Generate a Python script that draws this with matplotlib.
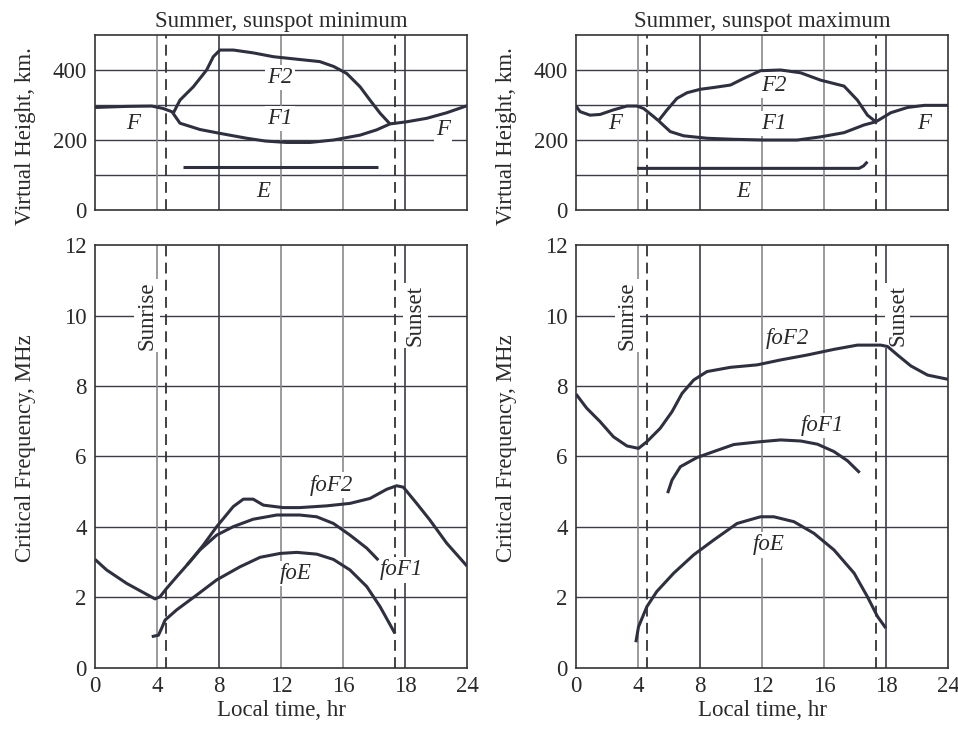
import matplotlib
matplotlib.use("Agg")
import matplotlib.pyplot as plt

plt.rcParams['font.family'] = ['Liberation Serif', 'DejaVu Serif']

INK = '#2e3040'
GRID_DARK = '#3c3c48'
GRID_LIGHT = '#8a8a8a'

# x ticks: drawn at 4 h spacing, the fifth one is printed "18" as in the source
XTICKS = [0, 4, 8, 12, 16, 20, 24]
XTICK_LABELS = ['0', '4', '8', '12', '16', '18', '24']
SUNRISE = 4.58
SUNSET = 19.36

# ---- sunspot minimum: virtual height (km) ----
min_f_night_x = [0, 2.0, 3.66, 4.4, 4.95, 5.04]
min_f_night_y = [293, 296, 297, 290, 281, 276]
min_f2_x = [5.04, 5.48, 6.34, 7.2, 7.63, 8.06, 8.92, 10.2, 11.5, 13.2, 14.5, 15.4,
            16.24, 17.1, 17.74, 18.4, 19.03]
min_f2_y = [276, 314, 352, 400, 438, 457, 457, 449, 438, 430, 424, 410,
            390, 352, 314, 276, 246]
min_f1_x = [5.04, 5.48, 6.77, 8.06, 9.79, 11.0, 12.37, 13.87, 15.38, 17.1, 18.17, 19.03]
min_f1_y = [276, 248, 230, 219, 205, 197, 193, 193, 200, 214, 229, 246]
min_f_eve_x = [19.03, 20.1, 21.4, 22.7, 24]
min_f_eve_y = [246, 252, 262, 278, 298]
min_e_x = [5.7, 18.28]
min_e_y = [122, 122]

# ---- sunspot maximum: virtual height (km) ----
max_f_night_x = [0, 0.26, 0.9, 1.55, 2.41, 3.28, 3.93, 4.36, 5.0, 5.32]
max_f_night_y = [297, 281, 271, 273, 286, 297, 297, 290, 267, 255]
max_f2_x = [5.32, 5.87, 6.51, 7.16, 8.02, 8.88, 9.96, 10.82, 11.9, 13.2, 14.49,
            15.78, 17.29, 18.15, 18.8, 19.34]
max_f2_y = [255, 286, 319, 335, 345, 350, 357, 376, 398, 400, 392,
            371, 354, 314, 271, 252]
max_f1_x = [5.32, 6.08, 6.94, 8.45, 10.18, 12.12, 14.27, 15.78, 17.29, 18.58, 19.34]
max_f1_y = [255, 224, 212, 205, 202, 200, 200, 209, 221, 243, 252]
max_f_eve_x = [19.34, 20.31, 21.39, 22.47, 24]
max_f_eve_y = [252, 278, 293, 299, 299]
max_e_x = [3.93, 18.26, 18.55, 18.8]
max_e_y = [119, 119, 126, 138]

# ---- sunspot minimum: critical frequency (MHz) ----
min_fof2_x = [0, 0.75, 2.04, 3.12, 3.87, 4.19, 4.62, 5.27, 6.13, 6.99, 7.85, 8.92,
              9.57, 10.2, 10.86, 12.15, 13.2, 14.95, 16.45, 17.74, 18.82, 19.46,
              19.89, 20.75, 21.6, 22.69, 24]
min_fof2_y = [3.08, 2.78, 2.40, 2.14, 1.96, 2.02, 2.26, 2.59, 3.02, 3.49, 4.01, 4.58,
              4.79, 4.79, 4.62, 4.55, 4.55, 4.60, 4.67, 4.81, 5.07, 5.17,
              5.13, 4.67, 4.20, 3.54, 2.89]
min_fof1_x = [5.92, 6.77, 7.85, 8.92, 10.2, 11.72, 13.2, 14.3, 15.38, 16.45, 17.53, 18.28]
min_fof1_y = [2.92, 3.35, 3.77, 4.01, 4.22, 4.34, 4.34, 4.29, 4.10, 3.77, 3.40, 3.06]
min_foe_x = [3.66, 4.09, 4.3, 4.52, 5.27, 6.56, 7.85, 9.35, 10.65, 11.94, 13.01,
             14.3, 15.38, 16.45, 17.53, 18.39, 19.35]
min_foe_y = [0.89, 0.93, 1.13, 1.36, 1.65, 2.07, 2.50, 2.87, 3.14, 3.25, 3.28,
             3.23, 3.08, 2.78, 2.31, 1.74, 0.98]

# ---- sunspot maximum: critical frequency (MHz) ----
max_fof2_x = [0, 0.69, 1.55, 2.41, 3.28, 4.03, 4.57, 5.43, 6.19, 6.84, 7.59, 8.45,
              9.96, 11.69, 13.2, 14.92, 16.64, 18.15, 19.66, 20.1, 20.74, 21.6,
              22.68, 24]
max_fof2_y = [7.77, 7.37, 6.99, 6.56, 6.30, 6.23, 6.42, 6.80, 7.27, 7.79, 8.17, 8.41,
              8.53, 8.60, 8.74, 8.88, 9.04, 9.16, 9.16, 9.12, 8.88, 8.57,
              8.31, 8.19]
max_fof1_x = [5.91, 6.19, 6.73, 7.8, 8.88, 10.18, 11.9, 13.2, 14.49, 15.57, 16.64,
              17.51, 18.3]
max_fof1_y = [4.96, 5.33, 5.71, 5.97, 6.14, 6.34, 6.42, 6.47, 6.44, 6.35, 6.14,
              5.88, 5.54]
max_foe_x = [3.86, 4.03, 4.57, 5.21, 6.3, 7.59, 8.88, 10.39, 11.9, 12.76, 14.06,
             15.35, 16.64, 17.94, 18.8, 19.45, 19.99]
max_foe_y = [0.73, 1.17, 1.74, 2.17, 2.69, 3.21, 3.63, 4.10, 4.29, 4.29, 4.15,
             3.82, 3.35, 2.69, 2.02, 1.46, 1.13]

# (text, x, y) for layer labels
min_height_labels = [('F', 2.47, 248), ('F2', 11.94, 379), ('F1', 11.94, 262),
                     ('F', 22.47, 229), ('E', 10.86, 52)]
max_height_labels = [('F', 2.52, 248), ('F2', 12.76, 357), ('F1', 12.76, 248),
                     ('F', 22.47, 248), ('E', 10.82, 52)]
min_freq_labels = [('foF2', 15.27, 5.19), ('foF1', 19.78, 2.78), ('foE', 12.97, 2.69)]
max_freq_labels = [('foF2', 13.63, 9.35), ('foF1', 15.89, 6.89), ('foE', 12.44, 3.49)]

FS = 16.5
TXT = '#2a2a2a'
BOX = dict(facecolor='white', edgecolor='none', pad=1.5)


def style_axes(ax, ymax, yticks, grid_y):
    ax.set_xlim(0, 24)
    ax.set_ylim(0, ymax)
    ax.set_xticks(XTICKS)
    ax.set_yticks(yticks)
    ax.tick_params(length=0, labelsize=FS, colors=TXT, pad=6)
    for s in ax.spines.values():
        s.set_color('#333333')
        s.set_linewidth(1.2)
    for gy in grid_y:
        ax.axhline(gy, color=GRID_DARK, lw=1.0, zorder=0)
    for gx, c in zip([4, 8, 12, 16, 20], [GRID_LIGHT, GRID_DARK, GRID_LIGHT, GRID_LIGHT, GRID_DARK]):
        ax.axvline(gx, color=c, lw=1.2, zorder=0)
    for d in (SUNRISE, SUNSET):
        ax.axvline(d, color='#333333', lw=1.3, ls=(0, (6, 3.5)), zorder=1)


def curve(ax, x, y):
    ax.plot(x, y, color=INK, lw=2.2, solid_capstyle='butt', zorder=3)


def labels(ax, items):
    for t, x, y in items:
        ax.text(x, y, t, fontsize=FS, style='italic', ha='center', va='center',
                color=TXT, bbox=BOX, zorder=2)


fig = plt.figure(figsize=(9.58, 7.29), dpi=100)
cols = [0.0992, 0.6013]
w = 0.3883
top_axes = [fig.add_axes([c, 0.7119, w, 0.2401]) for c in cols]
bot_axes = [fig.add_axes([c, 0.0837, w, 0.5802]) for c in cols]

height_sets = [
    (min_f_night_x, min_f_night_y, min_f2_x, min_f2_y, min_f1_x, min_f1_y,
     min_f_eve_x, min_f_eve_y, min_e_x, min_e_y, min_height_labels),
    (max_f_night_x, max_f_night_y, max_f2_x, max_f2_y, max_f1_x, max_f1_y,
     max_f_eve_x, max_f_eve_y, max_e_x, max_e_y, max_height_labels),
]
titles = ['Summer, sunspot minimum', 'Summer, sunspot maximum']

for ax, data, title in zip(top_axes, height_sets, titles):
    style_axes(ax, 500, [0, 200, 400], [100, 200, 300, 400])
    ax.set_xticklabels([])
    for i in range(0, 10, 2):
        curve(ax, data[i], data[i + 1])
    labels(ax, data[10])
    ax.set_title(title, fontsize=FS, pad=6, color=TXT)
    ax.set_ylabel('Virtual Height, km.', fontsize=FS, color=TXT)
    ax.yaxis.set_label_coords(-0.158, 0.42)

freq_sets = [
    (min_fof2_x, min_fof2_y, min_fof1_x, min_fof1_y, min_foe_x, min_foe_y, min_freq_labels),
    (max_fof2_x, max_fof2_y, max_fof1_x, max_fof1_y, max_foe_x, max_foe_y, max_freq_labels),
]
sun_pos = [(3.35, 20.65), (3.3, 20.76)]

for ax, data, (sr, ss) in zip(bot_axes, freq_sets, sun_pos):
    style_axes(ax, 12, [0, 2, 4, 6, 8, 10, 12], [2, 4, 6, 8, 10])
    ax.set_xticklabels(XTICK_LABELS)
    for i in range(0, 6, 2):
        curve(ax, data[i], data[i + 1])
    labels(ax, data[6])
    ax.text(sr, 10, 'Sunrise', rotation=90, fontsize=FS, ha='center', va='center',
            color=TXT, bbox=BOX, zorder=2)
    ax.text(ss, 10, 'Sunset', rotation=90, fontsize=FS, ha='center', va='center',
            color=TXT, bbox=BOX, zorder=2)
    ax.set_xlabel('Local time, hr', fontsize=FS, color=TXT, labelpad=2)
    ax.set_ylabel('Critical Frequency, MHz', fontsize=FS, color=TXT)
    ax.yaxis.set_label_coords(-0.158, 0.52)

fig.savefig('out.png', dpi=100)
